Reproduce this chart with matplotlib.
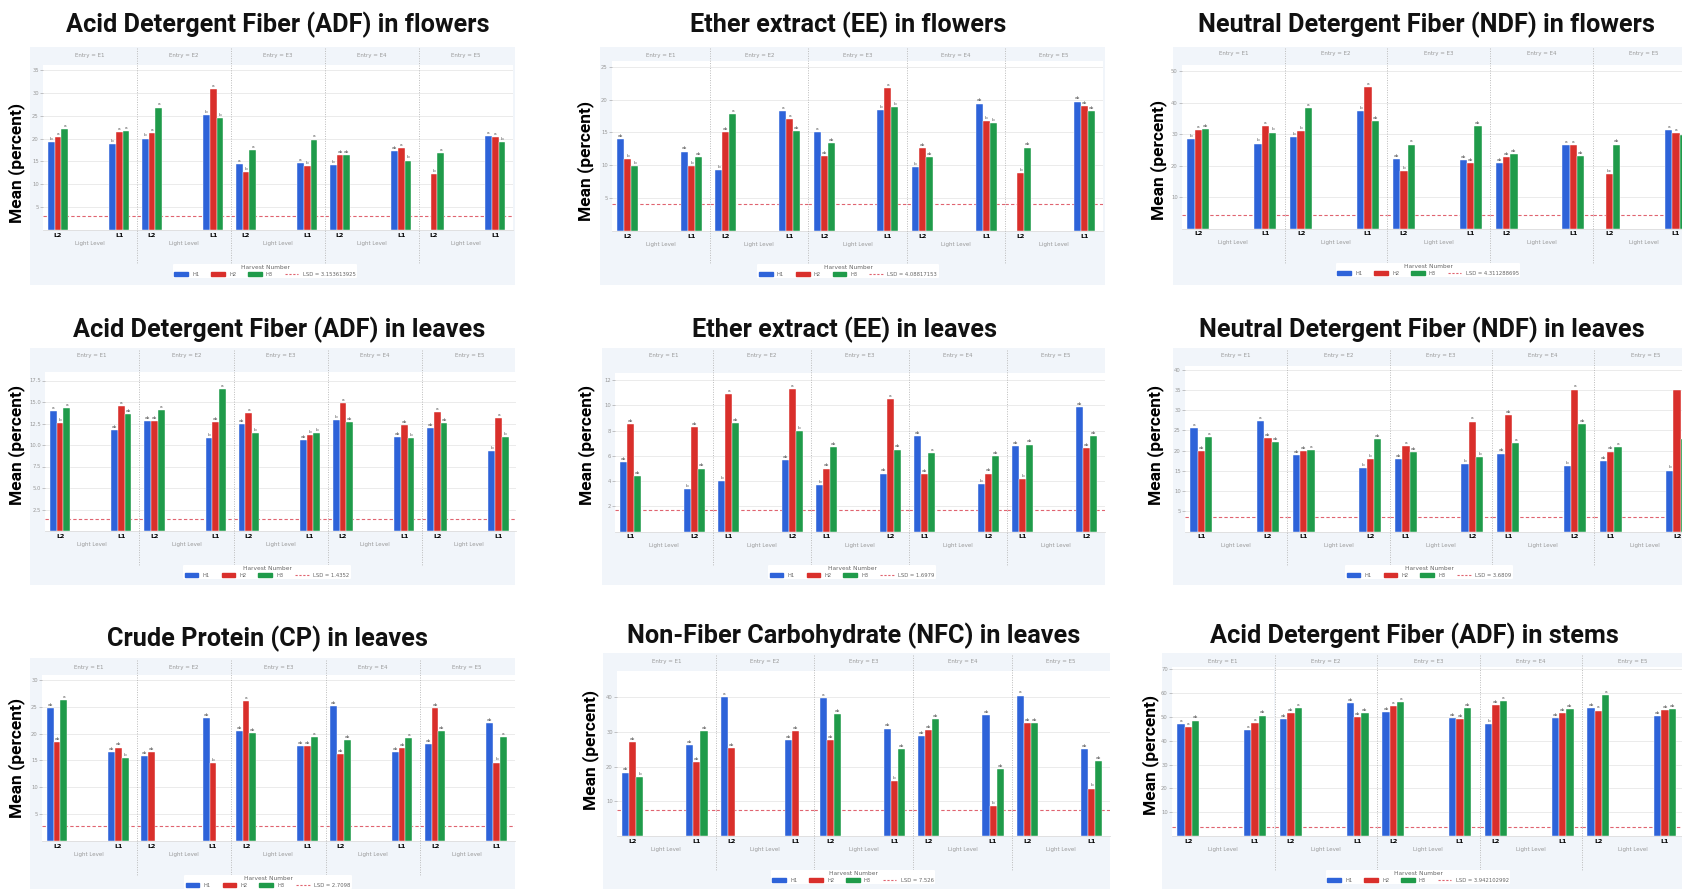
import numpy as np
import matplotlib.pyplot as plt
from matplotlib.lines import Line2D
from matplotlib.patches import Rectangle, Patch

FIG_W, FIG_H = 1682, 889
BLUE, RED, GREEN = '#2e63d9', '#d92f2b', '#1f9b4a'
LSD_COLOR = '#e06470'
BOX_BG = '#f1f5fa'
BW = 0.11

entries = ['E1', 'E2', 'E3', 'E4', 'E5']
harvests = ['H1', 'H2', 'H3']

# values per entry: (first level, second level); nan = harvest not sampled
adf_fl_levels = ['L2', 'L1']
adf_fl_h1 = [19.3, 18.8, 20.0, 25.1, 14.4, 14.6, 14.3, 17.2, np.nan, 20.5]
adf_fl_h2 = [20.4, 21.5, 21.3, 30.9, 12.6, 13.9, 16.4, 17.9, 12.3, 20.4]
adf_fl_h3 = [22.0, 21.7, 26.8, 24.4, 17.5, 19.8, 16.4, 15.2, 16.8, 19.3]
adf_fl_let = "b a a b a a b a a b a b a b a a b a b ab ab ab a b - b a a a b"
adf_fl_lsd = 3.153613925

ee_fl_levels = ['L2', 'L1']
ee_fl_h1 = [14.0, 12.1, 9.3, 18.3, 15.0, 18.4, 9.8, 19.4, np.nan, 19.7]
ee_fl_h2 = [10.9, 9.9, 15.0, 17.1, 11.4, 21.7, 12.6, 16.7, 8.8, 19.0]
ee_fl_h3 = [9.9, 11.2, 17.8, 15.2, 13.4, 18.8, 11.3, 16.4, 12.7, 18.3]
ee_fl_let = "ab b b ab b ab b ab a a a ab a ab ab b a b b ab ab ab b b - b ab ab ab ab"
ee_fl_lsd = 4.08817153

ndf_fl_levels = ['L2', 'L1']
ndf_fl_h1 = [28.4, 27.0, 29.2, 37.4, 22.1, 21.9, 20.7, 26.5, np.nan, 31.3]
ndf_fl_h2 = [31.3, 32.5, 31.0, 44.8, 18.2, 20.7, 22.8, 26.5, 17.3, 30.2]
ndf_fl_h3 = [31.7, 30.5, 38.2, 34.2, 26.7, 32.6, 23.7, 23.0, 26.7, 29.6]
ndf_fl_let = "b a ab b a b b b a b a ab ab b a ab ab ab ab ab ab a a ab - bc ab a a a"
ndf_fl_lsd = 4.311288695

adf_lv_levels = ['L2', 'L1']
adf_lv_h1 = [13.95, 11.7, 12.8, 10.85, 12.4, 10.6, 12.9, 10.9, 12.0, 9.3]
adf_lv_h2 = [12.6, 14.5, 12.8, 12.7, 13.7, 11.2, 14.9, 12.3, 13.8, 13.1]
adf_lv_h3 = [14.3, 13.6, 14.1, 16.5, 11.4, 11.4, 12.7, 10.8, 12.6, 10.9]
adf_lv_let = "a b a ab a ab ab ab a b ab a ab a b ab b b b a ab ab ab b ab a ab b a b"
adf_lv_lsd = 1.4352

ee_lv_levels = ['L1', 'L2']
ee_lv_h1 = [5.5, 3.35, 4.0, 5.65, 3.7, 4.6, 7.6, 3.8, 6.8, 9.9]
ee_lv_h2 = [8.5, 8.3, 10.9, 11.3, 5.0, 10.5, 4.55, 4.6, 4.2, 6.65]
ee_lv_h3 = [4.4, 5.0, 8.6, 8.0, 6.7, 6.5, 6.2, 6.0, 6.9, 7.6]
ee_lv_let = "ab ab ab b ab ab b a ab ab a b b ab ab ab a ab ab ab a b ab ab ab b ab ab ab ab"
ee_lv_lsd = 1.6979

ndf_lv_levels = ['L1', 'L2']
ndf_lv_h1 = [25.5, 27.4, 18.9, 15.8, 17.9, 16.8, 19.3, 16.3, 17.5, 15.1]
ndf_lv_h2 = [20.0, 23.2, 19.9, 17.9, 21.2, 27.2, 28.7, 35.1, 19.8, 34.9]
ndf_lv_h3 = [23.3, 22.2, 20.2, 22.9, 19.6, 18.4, 21.8, 26.5, 21.0, 23.0]
ndf_lv_let = "a ab a a ab ab ab ab a b b ab ab a ab b a b ab ab a b a ab ab ab a b a a"
ndf_lv_lsd = 3.6809

cp_lv_levels = ['L2', 'L1']
cp_lv_h1 = [24.7, 16.6, 15.8, 22.9, 20.5, 17.6, 25.2, 16.6, 18.1, 21.9]
cp_lv_h2 = [18.5, 17.4, 16.5, 14.5, 26.1, 17.6, 16.2, 17.3, 24.8, 14.6]
cp_lv_h3 = [26.2, 15.4, np.nan, np.nan, 20.1, 19.4, 18.8, 19.1, 20.5, 19.4]
cp_lv_let = "ab ab a ab ab b ab ab - ab b - ab a ab ab ab a ab ab ab ab ab a ab ab ab ab b a"
cp_lv_lsd = 2.7098

nfc_lv_levels = ['L2', 'L1']
nfc_lv_h1 = [18.3, 26.2, 40.1, 27.6, 39.8, 31.0, 28.8, 34.8, 40.5, 25.2]
nfc_lv_h2 = [27.0, 21.3, 25.4, 30.2, 27.6, 15.8, 30.5, 8.6, 32.5, 13.7]
nfc_lv_h3 = [17.1, 30.2, np.nan, np.nan, 35.3, 25.0, 33.8, 19.4, 32.7, 21.6]
nfc_lv_let = "ab ab b ab ab ab a ab - ab ab - a ab ab ab b ab ab ab ab ab b ab a ab ab ab b ab"
nfc_lv_lsd = 7.526

adf_st_levels = ['L2', 'L1']
adf_st_h1 = [47.2, 44.7, 49.2, 55.7, 52.1, 49.7, 47.2, 49.7, 53.8, 50.3]
adf_st_h2 = [45.9, 47.5, 51.7, 49.9, 54.5, 49.2, 54.9, 51.8, 52.7, 53.1]
adf_st_h3 = [48.5, 50.6, 53.9, 51.8, 56.4, 53.6, 56.7, 53.2, 59.1, 53.5]
adf_st_let = "a a ab a a ab ab ab a ab ab ab ab a a ab ab ab b ab a ab ab ab ab a a ab ab ab"
adf_st_lsd = 3.942102992

panels = [
    dict(title='Acid Detergent Fiber (ADF) in flowers', levels=adf_fl_levels,
         vals=(adf_fl_h1, adf_fl_h2, adf_fl_h3), let=adf_fl_let, lsd=adf_fl_lsd,
         ticks=np.arange(5, 36, 5), ymax=36, box=(30, 47, 515, 285), x0=43, fw=94,
         yb=230, ppu=4.57, flab=55, sep=(48, 263), tpos=(278, 25), ylab=(17, 163), leg=(265, 271)),
    dict(title='Ether extract (EE) in flowers', levels=ee_fl_levels,
         vals=(ee_fl_h1, ee_fl_h2, ee_fl_h3), let=ee_fl_let, lsd=ee_fl_lsd,
         ticks=np.arange(5, 26, 5), ymax=25.8, box=(600, 47, 1105, 285), x0=612, fw=98.2,
         yb=231, ppu=6.57, flab=55, sep=(48, 263), tpos=(848, 25), ylab=(586, 161), leg=(848, 271)),
    dict(title='Neutral Detergent Fiber (NDF) in flowers', levels=ndf_fl_levels,
         vals=(ndf_fl_h1, ndf_fl_h2, ndf_fl_h3), let=ndf_fl_let, lsd=ndf_fl_lsd,
         ticks=np.arange(10, 51, 10), ymax=52, box=(1173, 47, 1700, 285), x0=1182, fw=102.7,
         yb=228.7, ppu=3.153, flab=54, sep=(48, 263), tpos=(1426, 25), ylab=(1159, 160), leg=(1428, 270)),
    dict(title='Acid Detergent Fiber (ADF) in leaves', levels=adf_lv_levels,
         vals=(adf_lv_h1, adf_lv_h2, adf_lv_h3), let=adf_lv_let, lsd=adf_lv_lsd,
         ticks=np.arange(2.5, 17.6, 2.5), ymax=18.5, box=(30, 348, 515, 585), x0=45, fw=94.3,
         yb=531, ppu=8.6, flab=356, sep=(350, 565), tpos=(279, 330), ylab=(17, 445), leg=(267, 572)),
    dict(title='Ether extract (EE) in leaves', levels=ee_lv_levels,
         vals=(ee_lv_h1, ee_lv_h2, ee_lv_h3), let=ee_lv_let, lsd=ee_lv_lsd,
         ticks=np.arange(2, 13, 2), ymax=12.6, box=(602, 348, 1105, 585), x0=615, fw=98,
         yb=531.7, ppu=12.63, flab=356, sep=(350, 565), tpos=(845, 330), ylab=(587, 445), leg=(852, 572)),
    dict(title='Neutral Detergent Fiber (NDF) in leaves', levels=ndf_lv_levels,
         vals=(ndf_lv_h1, ndf_lv_h2, ndf_lv_h3), let=ndf_lv_let, lsd=ndf_lv_lsd,
         ticks=np.arange(5, 41, 5), ymax=41, box=(1173, 348, 1700, 585), x0=1185, fw=102.3,
         yb=531.7, ppu=4.05, flab=356, sep=(350, 565), tpos=(1422, 330), ylab=(1156, 445), leg=(1429, 572)),
    dict(title='Crude Protein (CP) in leaves', levels=cp_lv_levels,
         vals=(cp_lv_h1, cp_lv_h2, cp_lv_h3), let=cp_lv_let, lsd=cp_lv_lsd,
         ticks=np.arange(5, 31, 5), ymax=31, box=(30, 658, 515, 900), x0=42, fw=94.5,
         yb=841, ppu=5.37, flab=667, sep=(660, 875), tpos=(267, 639), ylab=(17, 758), leg=(268, 882)),
    dict(title='Non-Fiber Carbohydrate (NFC) in leaves', levels=nfc_lv_levels,
         vals=(nfc_lv_h1, nfc_lv_h2, nfc_lv_h3), let=nfc_lv_let, lsd=nfc_lv_lsd,
         ticks=np.arange(10, 41, 10), ymax=47.5, box=(603, 653, 1110, 900), x0=617, fw=98.7,
         yb=836, ppu=3.467, flab=662, sep=(655, 870), tpos=(854, 636), ylab=(591, 750), leg=(853, 877)),
    dict(title='Acid Detergent Fiber (ADF) in stems', levels=adf_st_levels,
         vals=(adf_st_h1, adf_st_h2, adf_st_h3), let=adf_st_let, lsd=adf_st_lsd,
         ticks=np.arange(10, 71, 10), ymax=71, box=(1162, 653, 1700, 900), x0=1172, fw=102.5,
         yb=836, ppu=2.38, flab=662, sep=(655, 870), tpos=(1414, 636), ylab=(1151, 755), leg=(1418, 877)),
]


def fx(x):
    return x / FIG_W


def fy(y):
    return 1 - y / FIG_H


def draw_panel(fig, p):
    bx1, by1, bx2, by2 = p['box']
    fig.add_artist(Rectangle((fx(bx1), fy(by2)), fx(bx2 - bx1), (by2 - by1) / FIG_H,
                             transform=fig.transFigure, facecolor=BOX_BG, edgecolor='none', zorder=-5))
    fig.text(fx(p['tpos'][0]), fy(p['tpos'][1]), p['title'], ha='center', va='center',
             fontsize=18.2, fontweight='bold', family='Roboto', color='#111111')
    fig.text(fx(p['ylab'][0]), fy(p['ylab'][1]), 'Mean (percent)', rotation=90, ha='center',
             va='center', fontsize=12.5, fontweight='bold', family='Roboto')
    tokens = p['let'].split()
    fw, ppu = p['fw'], p['ppu']
    for k, entry in enumerate(entries):
        left = p['x0'] + k * fw
        ax = fig.add_axes([fx(left), fy(p['yb']), fw / FIG_W, p['ymax'] * ppu / FIG_H])
        ax.set_facecolor('white')
        ax.set_xlim(-0.16 / 0.65, 1 + 0.19 / 0.65)
        ax.set_ylim(0, p['ymax'])
        xs = np.arange(2)
        for j, col in enumerate((BLUE, RED, GREEN)):
            v = np.array(p['vals'][j][2 * k:2 * k + 2], dtype=float)
            pos = xs + (j - 1) * BW
            ax.bar(pos, v, width=BW, color=col, edgecolor='white', linewidth=0.3, zorder=3)
            for i in range(2):
                if np.isnan(v[i]):
                    continue
                # letters past the right edge of the figure are not drawn
                if ax.transData.transform((pos[i] + BW / 2, v[i]))[0] > FIG_W - 2:
                    continue
                ax.annotate(tokens[(2 * k + i) * 3 + j], (pos[i], v[i]), xytext=(0, 0.8),
                            textcoords='offset points', ha='center', va='bottom',
                            fontsize=3.2, color='#555555', zorder=4)
        ax.axhline(p['lsd'], color=LSD_COLOR, ls=(0, (3, 2)), lw=0.8, zorder=2)
        ax.set_yticks(p['ticks'])
        ax.yaxis.grid(True, color='#e8e8e8', lw=0.6)
        ax.set_axisbelow(True)
        for s in ('top', 'right', 'left'):
            ax.spines[s].set_visible(False)
        ax.spines['bottom'].set_color('#dddddd')
        ax.spines['bottom'].set_linewidth(0.6)
        if k == 0:
            ax.tick_params(axis='y', labelsize=3.8, colors='#999999', length=2, width=0.4, pad=1)
        else:
            ax.tick_params(axis='y', labelleft=False, length=0)
        ax.set_xticks(xs, p['levels'])
        ax.tick_params(axis='x', length=0, pad=2, labelsize=4.5)
        for t in ax.get_xticklabels():
            t.set_fontweight('bold')
        ax.set_xlabel('Light Level', fontsize=4, color='#999999', labelpad=2.5)
        fig.text(fx(left + fw / 2), fy(p['flab']), 'Entry = ' + entry, ha='center', va='center',
                 fontsize=4, color='#999999')
        if k > 0:
            fig.add_artist(Line2D([fx(left), fx(left)], [fy(p['sep'][0]), fy(p['sep'][1])],
                                  transform=fig.transFigure, color='#bbbbbb', lw=0.7,
                                  ls=(0, (1, 1.5))))
    handles = [Patch(color=BLUE), Patch(color=RED), Patch(color=GREEN),
               Line2D([], [], color=LSD_COLOR, ls=(0, (2, 1.5)), lw=0.8)]
    labels = harvests + ['LSD = %s' % p['lsd']]
    leg = fig.legend(handles, labels, ncol=4, title='Harvest Number', loc='center',
                     bbox_to_anchor=(fx(p['leg'][0]), fy(p['leg'][1])), fontsize=3.8,
                     title_fontsize=4.2, frameon=True, facecolor='white', edgecolor='none',
                     handlelength=2.6, handleheight=0.9, columnspacing=2.2, borderpad=0.3,
                     labelspacing=0.2, handletextpad=0.8)
    leg.get_frame().set_alpha(1)
    leg.get_title().set_color('#666666')
    for t in leg.get_texts():
        t.set_color('#666666')


fig = plt.figure(figsize=(FIG_W / 100, FIG_H / 100), dpi=100)
fig.patch.set_facecolor('white')
for p in panels:
    draw_panel(fig, p)

fig.savefig('out.png', dpi=100)
